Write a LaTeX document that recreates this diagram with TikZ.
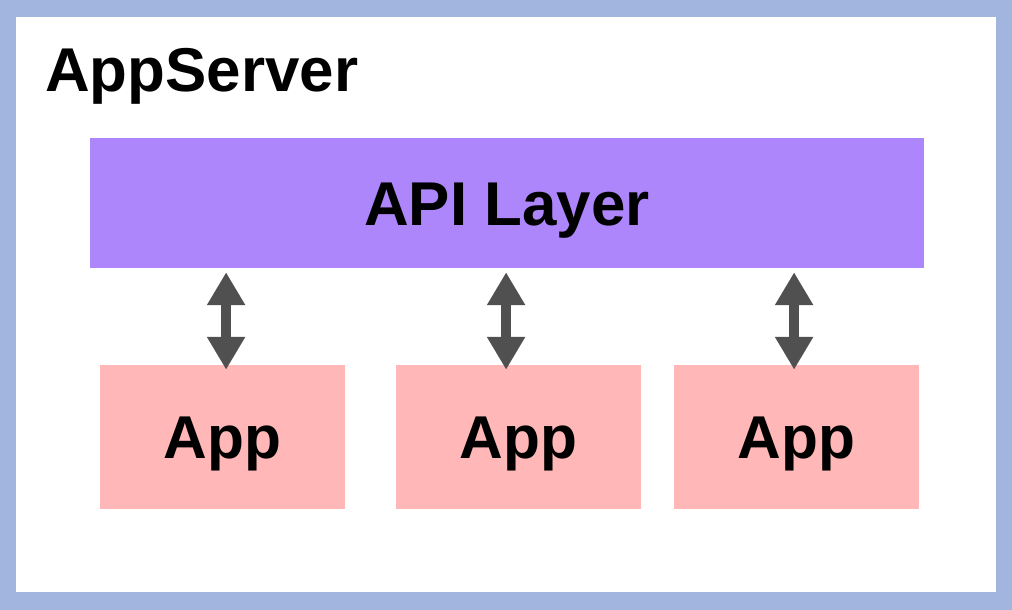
\documentclass[tikz,border=0pt]{standalone}
\usepackage{fontspec}
\setmainfont{Liberation Sans}
\usepackage{xcolor}
\usetikzlibrary{arrows.meta,calc}
\definecolor{frameblue}{RGB}{162,181,222}
\definecolor{apipurple}{RGB}{173,134,251}
\definecolor{apppink}{RGB}{255,183,183}
\definecolor{linkgray}{RGB}{80,80,80}
\tikzset{
  layer/.style={fill=apipurple,draw=none,minimum width=20.85cm,minimum height=3.25cm,inner sep=0pt,text height=31.5pt,text depth=0pt,font=\fontsize{44}{50}\selectfont\bfseries},
  appbox/.style={fill=apppink,draw=none,minimum width=6.125cm,minimum height=3.6cm,inner sep=0pt,text height=30.8pt,text depth=0pt,font=\fontsize{43}{50}\selectfont\bfseries},
  link/.style={draw=linkgray,line width=0.25cm,{Triangle[width=0.9cm,length=0.82cm]}-{Triangle[width=0.9cm,length=0.82cm]},shorten <=-0.125cm,shorten >=0.1cm}
}

\begin{document}
\begin{tikzpicture}[line join=miter,x=1.0cm,y=1.0cm]
\useasboundingbox (0,0) rectangle (25.3,15.25);
% outer frame
\fill [frameblue] (0,0) rectangle (25.3,15.25);
\fill [white] (0.4,0.45) rectangle (24.9,14.825);
\node [anchor=base west,inner sep=0pt,font=\fontsize{44}{50}\selectfont\bfseries] (title) at (1.125,12.97) {AppServer};
% layer and apps
\node [layer] (api) at (12.675,10.175) {API Layer};
\node [appbox] (app1) at (5.5625,4.325) {App};
\node [appbox] (app2) at (12.9625,4.325) {App};
\node [appbox] (app3) at (19.9125,4.325) {App};
% links
\draw [link] ([xshift=0.09cm]app1.north) -- ([xshift=0.09cm]app1.north |- api.south);
\draw [link] ([xshift=-0.31cm]app2.north) -- ([xshift=-0.31cm]app2.north |- api.south);
\draw [link] ([xshift=-0.06cm]app3.north) -- ([xshift=-0.06cm]app3.north |- api.south);
\end{tikzpicture}
\end{document}
